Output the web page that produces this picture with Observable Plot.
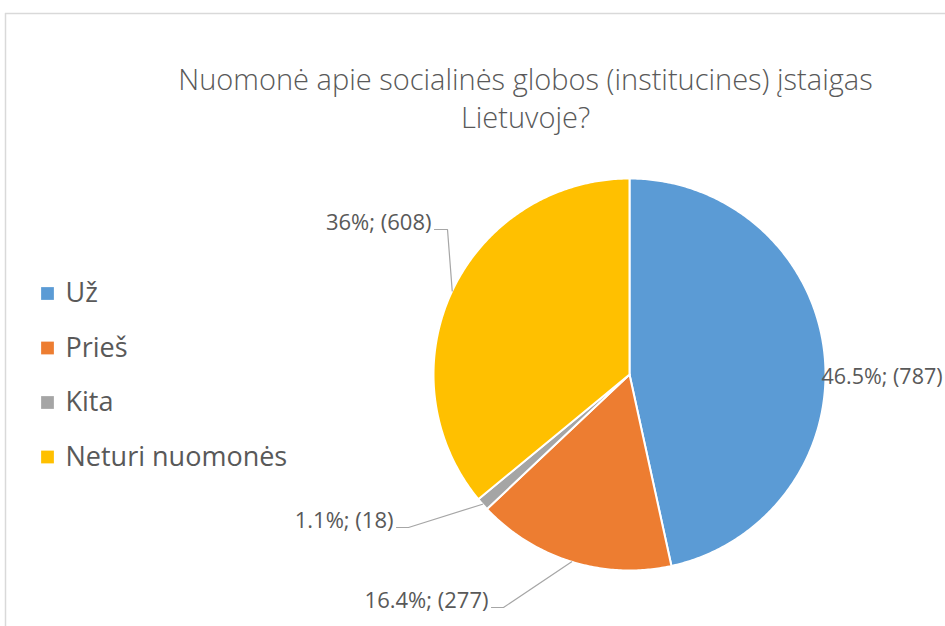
<!DOCTYPE html>
<html>
<head>
<meta charset="utf-8">
<script src="https://cdn.jsdelivr.net/npm/d3@7"></script>
<script src="https://cdn.jsdelivr.net/npm/@observablehq/plot@0.6"></script>
<style>
  html, body { margin: 0; padding: 0; background: #fff; }
  #chart { width: 945px; height: 626px; overflow: hidden; }
</style>
</head>
<body>
<div id="chart"></div>
<script>
// ---- data ----
const categories = ["Už", "Prieš", "Kita", "Neturi nuomonės"];
const counts = [787, 277, 18, 608];
const percentLabels = ["46.5%", "16.4%", "1.1%", "36%"];
const colors = ["#5B9BD5", "#ED7D31", "#A5A5A5", "#FFC000"];
const titleLines = ["Nuomonė apie socialinės globos (institucines) įstaigas", "Lietuvoje?"];

// ---- layout (pixel units of the frame) ----
const W = 945, H = 626;
const cx = 629, cy = 374, R = 196;
const labelLayout = [
  {x: 821, y: 377, anchor: "start", elbow: null},
  {x: 488, y: 600, anchor: "end", elbow: 503},
  {x: 393, y: 520, anchor: "end", elbow: 408},
  {x: 431, y: 222, anchor: "end", elbow: 447}
];
const legendX = 47, legendY0 = 293, legendStep = 54.5;

// ---- build geometry ----
const pie = d3.pie().sort(null).value(d => d)(counts);
const slicePts = [];
pie.forEach((p, i) => {
  const key = categories[i];
  slicePts.push({key, x: cx, y: cy});
  const n = Math.max(2, Math.ceil((p.endAngle - p.startAngle) / 0.01));
  for (let k = 0; k <= n; k++) {
    const a = p.startAngle + (p.endAngle - p.startAngle) * k / n;
    slicePts.push({key, x: cx + R * Math.sin(a), y: cy - R * Math.cos(a)});
  }
  slicePts.push({key, x: cx, y: cy});
});

const labels = categories.map((c, i) => ({
  key: c,
  text: `${percentLabels[i]}; (${counts[i]})`,
  x: labelLayout[i].x, y: labelLayout[i].y, anchor: labelLayout[i].anchor
}));

const leaders = [];
pie.forEach((p, i) => {
  const L = labelLayout[i];
  if (L.elbow == null) return;
  const a = (p.startAngle + p.endAngle) / 2;
  const ly = L.y + 7;
  leaders.push({key: categories[i], x: L.x + 3, y: ly});
  leaders.push({key: categories[i], x: L.elbow, y: ly});
  leaders.push({key: categories[i], x: cx + R * Math.sin(a), y: cy - R * Math.cos(a)});
});
const legend = categories.map((c, i) => ({key: c, x: legendX, y: legendY0 + i * legendStep}));

const textColor = "#595959";
const labelFont = "'Open Sans', 'Noto Sans', sans-serif";

const chart = Plot.plot({
  width: W, height: H,
  margin: 0,
  x: {domain: [0, W], range: [0, W], axis: null},
  y: {domain: [0, H], range: [0, H], axis: null},
  color: {domain: categories, range: colors},
  style: {background: "#fff", fontFamily: labelFont},
  marks: [
    Plot.ruleY([13], {x1: 5, x2: W, stroke: "#d9d9d9", strokeWidth: 1.5}),
    Plot.ruleX([5], {y1: 13, y2: H, stroke: "#d9d9d9", strokeWidth: 1.5}),
    Plot.text(titleLines, {
      x: 525, y: (d, i) => 80 + i * 38, text: d => d,
      fontSize: 29, fill: textColor, textAnchor: "middle", lineAnchor: "middle",
      fontFamily: "'Open Sans', sans-serif", fontWeight: 300
    }),
    Plot.line(slicePts, {
      x: "x", y: "y", z: "key", fill: "key",
      stroke: "#fff", strokeWidth: 2, strokeLinejoin: "round", curve: "linear"
    }),
    Plot.line(leaders, {x: "x", y: "y", z: "key", stroke: "#a6a6a6", strokeWidth: 1.2}),
    Plot.text(labels.filter(d => d.anchor === "start"), {
      x: "x", y: "y", text: "text", textAnchor: "start",
      fontSize: 21.5, fill: textColor, lineAnchor: "middle"
    }),
    Plot.text(labels.filter(d => d.anchor === "end"), {
      x: "x", y: "y", text: "text", textAnchor: "end",
      fontSize: 22, fill: textColor, lineAnchor: "middle"
    }),
    Plot.dot(legend, {x: "x", y: "y", fill: "key", symbol: "square", r: 7.2}),
    Plot.text(legend, {
      x: d => d.x + 18, y: "y", text: "key", textAnchor: "start",
      fontSize: 27, fill: textColor, lineAnchor: "middle"
    })
  ]
});
document.getElementById("chart").appendChild(chart);
</script>
</body>
</html>
